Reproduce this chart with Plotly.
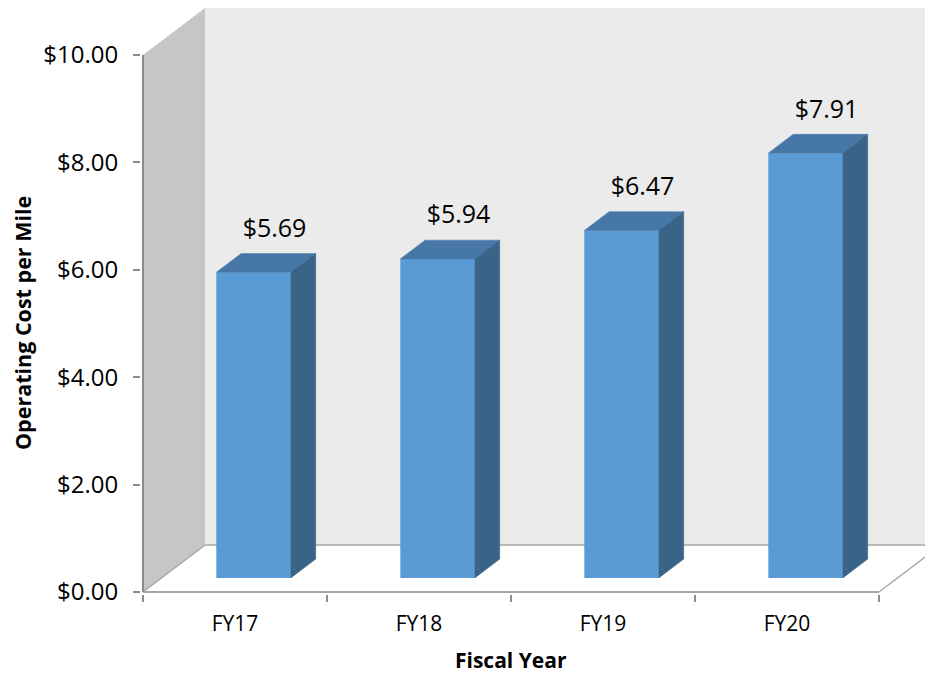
"""
Operating cost per mile by fiscal year - 3D-style column chart
"""
import plotly.graph_objects as go

# data
years = ['FY17', 'FY18', 'FY19', 'FY20']
cost_per_mile = [5.69, 5.94, 6.47, 7.91]
y_ticks = [0, 2, 4, 6, 8, 10]

# 3D look: depth offset of the walls in axis units, bar placement inside the depth
DX, DY = 0.337, 0.875
BAR_HALF = 0.2027
D_FRONT, D_BACK = 0.3, 0.7
Y_MAX = 10

FONT = 'Open Sans'
BAR_FRONT = '#5b9bd5'
BAR_TOP = '#4677a7'
BAR_SIDE = '#3a6388'
EDGE = '#a6a6a6'

# pixels per axis unit; the page body adds an 8px margin, so the figure is kept
# small enough that the browser shows no scrollbars
PX_X, PX_Y = 184, 53.7
FIG_W, FIG_H = 917, 667
PLOT_LEFT, PLOT_BOTTOM = 133, 586

n = len(years)
centers = [i + 0.5 for i in range(n)]

fig = go.Figure()

# front faces of the columns
fig.add_trace(go.Bar(
    x=[c + D_FRONT * DX for c in centers],
    y=cost_per_mile,
    base=D_FRONT * DY,
    width=2 * BAR_HALF,
    marker=dict(color=BAR_FRONT, line=dict(width=0)),
    hoverinfo='skip',
))

# top and side faces
for c, v in zip(centers, cost_per_mile):
    xl, xr = c - BAR_HALF, c + BAR_HALF
    top_x = [xl + D_FRONT * DX, xr + D_FRONT * DX, xr + D_BACK * DX, xl + D_BACK * DX, xl + D_FRONT * DX]
    top_y = [v + D_FRONT * DY, v + D_FRONT * DY, v + D_BACK * DY, v + D_BACK * DY, v + D_FRONT * DY]
    fig.add_trace(go.Scatter(
        x=top_x, y=top_y, fill='toself', fillcolor=BAR_TOP, mode='lines',
        line=dict(color=BAR_TOP, width=0.5), hoverinfo='skip'
    ))
    side_x = [xr + D_FRONT * DX, xr + D_BACK * DX, xr + D_BACK * DX, xr + D_FRONT * DX, xr + D_FRONT * DX]
    side_y = [D_FRONT * DY, D_BACK * DY, v + D_BACK * DY, v + D_FRONT * DY, D_FRONT * DY]
    fig.add_trace(go.Scatter(
        x=side_x, y=side_y, fill='toself', fillcolor=BAR_SIDE, mode='lines',
        line=dict(color=BAR_SIDE, width=0.5), hoverinfo='skip'
    ))

# data labels
fig.add_trace(go.Scatter(
    x=[c + 0.215 for c in centers],
    y=[v + 1.04 for v in cost_per_mile],
    mode='text',
    text=[f"${v:.2f}" for v in cost_per_mile],
    textfont=dict(family=FONT, size=25, color='black'),
    cliponaxis=False,
    hoverinfo='skip',
))

# walls and floor
x_end = n
shapes = [
    # back wall
    dict(type='rect', x0=DX, x1=x_end + DX + 1, y0=DY, y1=Y_MAX + DY,
         fillcolor='#ebebeb', line_width=0, layer='below'),
    # side wall
    dict(type='path', path=f"M 0,0 L {DX},{DY} L {DX},{Y_MAX + DY} L 0,{Y_MAX} Z",
         fillcolor='#c6c6c6', line_width=0, layer='below'),
    # floor
    dict(type='path', path=f"M 0,0 L {x_end},0 L {x_end + DX},{DY} L {DX},{DY} Z",
         fillcolor='#ffffff', line_width=0, layer='below'),
    # floor edges
    dict(type='line', x0=DX, x1=x_end + DX + 1, y0=DY, y1=DY, line=dict(color=EDGE, width=1.5), layer='below'),
    dict(type='line', x0=0, x1=DX, y0=0, y1=DY, line=dict(color=EDGE, width=1.5), layer='below'),
    dict(type='line', x0=x_end, x1=x_end + DX, y0=0, y1=DY, line=dict(color=EDGE, width=1.5), layer='below'),
    dict(type='line', x0=0, x1=x_end, y0=0, y1=0, line=dict(color=EDGE, width=2), layer='below'),
    # value axis line
    dict(type='line', x0=0, x1=0, y0=0, y1=Y_MAX, line=dict(color='#8c8c8c', width=2)),
]

plot_w = FIG_W - PLOT_LEFT
plot_h = PLOT_BOTTOM

fig.update_layout(
    width=FIG_W,
    height=FIG_H,
    margin=dict(l=PLOT_LEFT, r=0, t=0, b=FIG_H - PLOT_BOTTOM),
    paper_bgcolor='white',
    plot_bgcolor='white',
    showlegend=False,
    shapes=shapes,
    font=dict(family=FONT, color='black'),
    xaxis=dict(
        range=[-2 / PX_X, (plot_w - 2) / PX_X],
        tickmode='array',
        tickvals=centers,
        ticktext=years,
        ticks='',
        ticklabelstandoff=15,
        tickfont=dict(family=FONT, size=21, color='black'),
        minor=dict(tickmode='array', tickvals=list(range(n + 1)), ticks='outside',
                   ticklen=7, tickcolor='#8c8c8c', tickwidth=1.5, showgrid=False),
        showgrid=False,
        zeroline=False,
        showline=False,
        fixedrange=True,
    ),
    yaxis=dict(
        range=[-2 / PX_Y, (plot_h - 2) / PX_Y],
        tickmode='array',
        tickvals=y_ticks,
        tickformat='$.2f',
        ticks='outside',
        ticklen=7,
        tickcolor='#8c8c8c',
        tickwidth=1.5,
        ticklabelstandoff=10,
        tickfont=dict(family=FONT, size=24, color='black'),
        showgrid=False,
        zeroline=False,
        showline=False,
        fixedrange=True,
    ),
    annotations=[
        dict(text='<b>Operating Cost per Mile</b>', xref='paper', yref='paper',
             x=(14 - PLOT_LEFT) / plot_w, y=(plot_h - 315) / plot_h,
             xanchor='center', yanchor='middle', textangle=-90, showarrow=False,
             font=dict(family=FONT, size=21.5, color='black')),
        dict(text='<b>Fiscal Year</b>', xref='paper', yref='paper',
             x=(503 - PLOT_LEFT) / plot_w, y=(plot_h - 652) / plot_h,
             xanchor='center', yanchor='middle', showarrow=False,
             font=dict(family=FONT, size=21, color='black')),
    ],
)

fig.write_html("out.html")
